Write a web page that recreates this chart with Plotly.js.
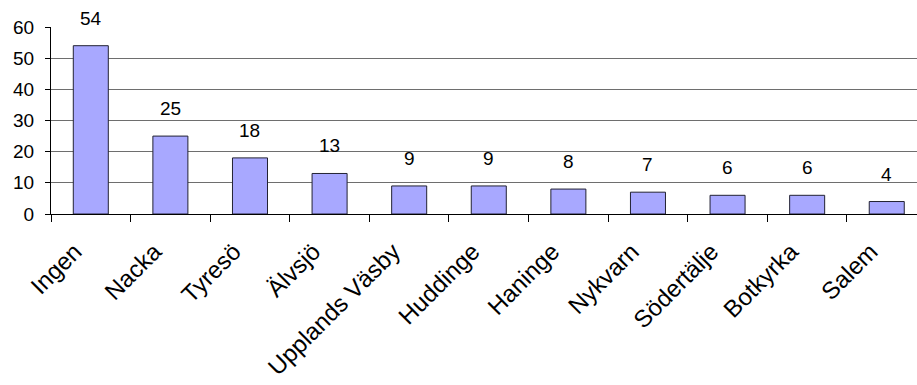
<!DOCTYPE html>
<html>
<head>
<meta charset="utf-8">
<script src="https://cdn.plot.ly/plotly-3.0.1.min.js"></script>
<style>
  html, body { margin: 0; padding: 0; background: #ffffff; }
  #chart { width: 917px; height: 385px; }
</style>
</head>
<body>
<div id="chart"></div>
<script>
// Antal per kommun
const categories = ["Ingen", "Nacka", "Tyresö", "Älvsjö", "Upplands Väsby", "Huddinge",
                    "Haninge", "Nykvarn", "Södertälje", "Botkyrka", "Salem"];
const counts = [54, 25, 18, 13, 9, 9, 8, 7, 6, 6, 4];
const yTicks = [0, 10, 20, 30, 40, 50, 60];

const font = "Liberation Sans, Arial, sans-serif";

const bars = {
  type: "bar",
  x: categories,
  y: counts,
  width: 0.44,
  marker: { color: "#a8a8ff", line: { color: "#222233", width: 1 } },
  hoverinfo: "x+y"
};

// value labels floated above each bar
const labels = categories.map((c, i) => ({
  x: c, y: counts[i], xref: "x", yref: "y",
  text: String(counts[i]), showarrow: false,
  yanchor: "bottom", yshift: 15,
  font: { family: font, size: 19, color: "#000" }
}));

const layout = {
  width: 917, height: 385,
  margin: { l: 51, r: 0, t: 27, b: 171, pad: 0 },
  paper_bgcolor: "#ffffff", plot_bgcolor: "#ffffff",
  showlegend: false,
  font: { family: font, size: 19, color: "#000" },
  xaxis: {
    type: "category",
    range: [-0.5, 10.38],
    tickangle: -45,
    ticks: "outside", tickson: "boundaries", ticklen: 7, tickcolor: "#000", tickwidth: 1,
    ticklabelstandoff: 13,
    ticklabelshift: -16,
    showline: true, linecolor: "#000", linewidth: 1,
    showgrid: false, zeroline: false,
    tickfont: { family: font, size: 24, color: "#000" }
  },
  yaxis: {
    range: [0, 60],
    tickmode: "array", tickvals: yTicks, ticktext: yTicks.map(String),
    ticks: "outside", ticklen: 5, tickcolor: "#000", tickwidth: 1,
    ticklabelstandoff: 7,
    showline: true, linecolor: "#000", linewidth: 1,
    showgrid: true, gridcolor: "#6e6e6e", gridwidth: 1,
    zeroline: false,
    tickfont: { family: font, size: 19, color: "#000" }
  },
  annotations: labels
};

Plotly.newPlot("chart", [bars], layout, { displayModeBar: false, staticPlot: true });
</script>
</body>
</html>
